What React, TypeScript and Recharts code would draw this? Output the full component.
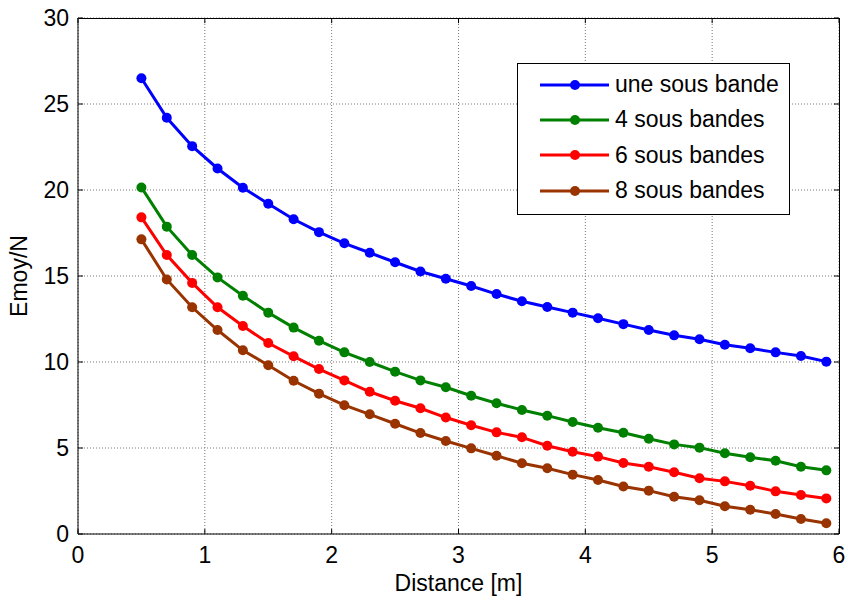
import { CartesianGrid, Legend, Line, LineChart, ReferenceLine, XAxis, YAxis } from "recharts"

const DISTANCES = [
  0.5, 0.7, 0.9, 1.1, 1.3, 1.5, 1.7, 1.9, 2.1, 2.3, 2.5, 2.7, 2.9, 3.1, 3.3, 3.5, 3.7, 3.9, 4.1, 4.3, 4.5, 4.7, 4.9, 5.1,
  5.3, 5.5, 5.7, 5.9,
]

const UNE_BANDE = [
  26.5, 24.2, 22.55, 21.25, 20.13, 19.2, 18.3, 17.55, 16.9, 16.35, 15.8, 15.26, 14.84, 14.42, 13.95, 13.53, 13.2, 12.87,
  12.54, 12.2, 11.86, 11.55, 11.32, 11.0, 10.8, 10.56, 10.35, 10.02,
]

const QUATRE_BANDES = [
  20.15, 17.87, 16.22, 14.92, 13.85, 12.87, 12.0, 11.24, 10.56, 10.0, 9.44, 8.93, 8.53, 8.04, 7.6, 7.21, 6.88, 6.51, 6.18,
  5.89, 5.54, 5.21, 5.02, 4.69, 4.46, 4.26, 3.91, 3.7,
]

const SIX_BANDES = [
  18.41, 16.22, 14.6, 13.18, 12.09, 11.1, 10.33, 9.59, 8.93, 8.27, 7.75, 7.31, 6.77, 6.32, 5.91, 5.62, 5.13, 4.78, 4.5,
  4.13, 3.91, 3.59, 3.24, 3.06, 2.81, 2.48, 2.27, 2.07,
]

const HUIT_BANDES = [
  17.13, 14.8, 13.18, 11.86, 10.68, 9.81, 8.91, 8.16, 7.49, 6.96, 6.41, 5.87, 5.41, 4.98, 4.55, 4.11, 3.82, 3.45, 3.14,
  2.76, 2.52, 2.17, 1.96, 1.61, 1.41, 1.16, 0.87, 0.62,
]

const X_TICKS = [0, 1, 2, 3, 4, 5, 6]
const Y_TICKS = [0, 5, 10, 15, 20, 25, 30]

const SERIES = [
  { key: "une", name: "une sous bande", color: "#0000ff" },
  { key: "quatre", name: "4 sous bandes", color: "#008000" },
  { key: "six", name: "6 sous bandes", color: "#ff0000" },
  { key: "huit", name: "8 sous bandes", color: "#993300" },
]

const FONT = "'Liberation Sans', Arial, sans-serif"
const FS = 23

const W = 848
const H = 603
const MARGIN = { top: 18, right: 9, left: 0, bottom: 0 }
const Y_AXIS_W = 78
const X_AXIS_H = 69

const data = DISTANCES.map((d, i) => ({
  d,
  une: UNE_BANDE[i],
  quatre: QUATRE_BANDES[i],
  six: SIX_BANDES[i],
  huit: HUIT_BANDES[i],
}))

function LegendBox({ payload }: any) {
  // keep the series order, recharts sorts the payload by name
  const items = SERIES.map((s) => (payload ?? []).find((p: any) => p.value === s.name)).filter(Boolean)
  return (
    <div
      style={{
        border: "1px solid #000",
        background: "#fff",
        padding: "3px 0 6px 0",
        fontFamily: FONT,
        fontSize: FS,
        color: "#000",
      }}
    >
      {items.map((entry: any) => (
        <div key={entry.value} style={{ display: "flex", alignItems: "center", height: 35.3 }}>
          <svg width={97} height={20} style={{ flex: "none" }}>
            <line x1={22} x2={91} y1={10} y2={10} stroke={entry.color} strokeWidth={3} />
            <circle cx={57} cy={10} r={5} fill={entry.color} />
          </svg>
          <span style={{ lineHeight: 1 }}>{entry.value}</span>
        </div>
      ))}
    </div>
  )
}

export default function App() {
  const plotLeft = MARGIN.left + Y_AXIS_W
  const plotTop = MARGIN.top
  const plotW = W - plotLeft - MARGIN.right
  const plotH = H - plotTop - MARGIN.bottom - X_AXIS_H
  return (
    <div style={{ position: "absolute", left: 0, top: 0, width: W, height: H, background: "#fff" }}>
      <LineChart width={W} height={H} data={data} margin={MARGIN}>
        <CartesianGrid stroke="#777" strokeDasharray="1 2" />
        <XAxis
          dataKey="d"
          type="number"
          domain={[0, 6]}
          ticks={X_TICKS}
          height={X_AXIS_H}
          stroke="#000"
          tickSize={-5}
          tickMargin={18}
          tick={{ fill: "#000", fontSize: FS, fontFamily: FONT }}
          label={{
            value: "Distance [m]",
            position: "insideBottom",
            offset: 12,
            fill: "#000",
            fontSize: FS,
            fontFamily: FONT,
          }}
        />
        <YAxis
          type="number"
          domain={[0, 30]}
          ticks={Y_TICKS}
          width={Y_AXIS_W}
          stroke="#000"
          tickSize={-5}
          tickMargin={14}
          tick={{ fill: "#000", fontSize: FS, fontFamily: FONT }}
          label={{
            value: "Emoy/N",
            angle: -90,
            position: "insideLeft",
            offset: 19,
            fill: "#000",
            fontSize: FS,
            fontFamily: FONT,
            style: { textAnchor: "middle" },
          }}
        />
        {/* inward ticks on the top and right sides */}
        {X_TICKS.map((t) => (
          <ReferenceLine
            key={`tx${t}`}
            ifOverflow="visible"
            segment={[
              { x: t, y: 30 },
              { x: t, y: 29.7 },
            ]}
            stroke="#000"
          />
        ))}
        {Y_TICKS.map((t) => (
          <ReferenceLine
            key={`ty${t}`}
            ifOverflow="visible"
            segment={[
              { x: 6, y: t },
              { x: 5.96, y: t },
            ]}
            stroke="#000"
          />
        ))}
        <Legend
          layout="vertical"
          align="center"
          verticalAlign="middle"
          content={<LegendBox />}
          wrapperStyle={{ left: 517, top: 63, width: 273 }}
        />
        {SERIES.map((s) => (
          <Line
            key={s.key}
            dataKey={s.key}
            name={s.name}
            stroke={s.color}
            strokeWidth={3}
            type="linear"
            dot={{ r: 5, fill: s.color, stroke: s.color, strokeWidth: 0 }}
            isAnimationActive={false}
          />
        ))}
      </LineChart>
      {/* top and right sides of the axes box */}
      <div
        style={{
          position: "absolute",
          left: plotLeft,
          top: plotTop - 0.5,
          width: plotW,
          height: plotH,
          borderTop: "1px solid #000",
          borderRight: "1px solid #000",
          boxSizing: "border-box",
          marginLeft: 0.5,
          pointerEvents: "none",
        }}
      />
    </div>
  )
}
